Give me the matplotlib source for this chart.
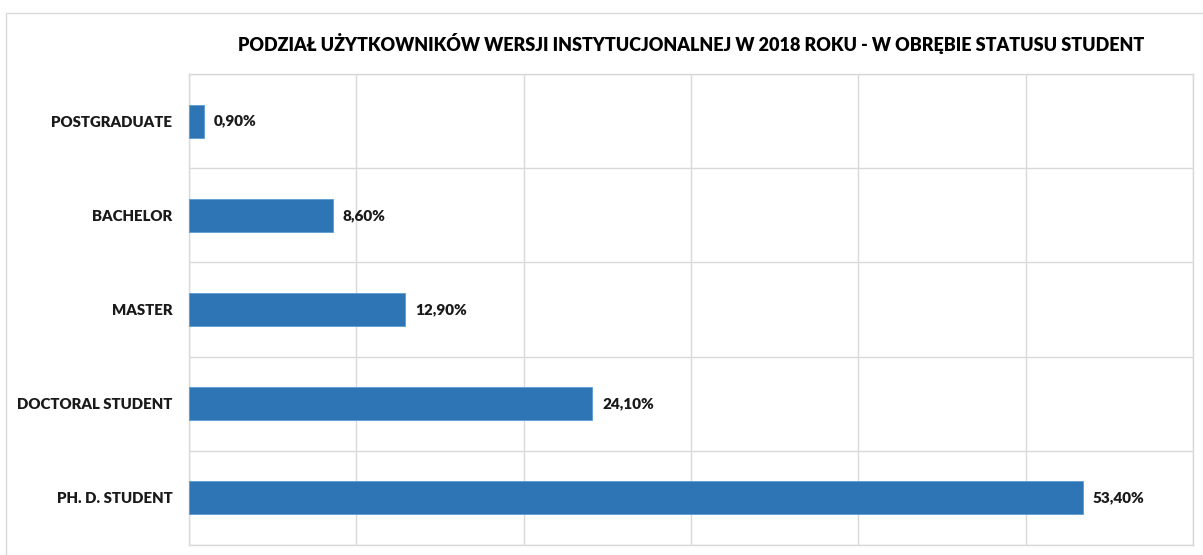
import matplotlib.pyplot as plt
from matplotlib.patches import Rectangle

# ----------------- dane -----------------
categories = ['POSTGRADUATE', 'BACHELOR', 'MASTER', 'DOCTORAL STUDENT', 'PH. D. STUDENT']
values = [0.90, 8.60, 12.90, 24.10, 53.40]
value_labels = ['0,90%', '8,60%', '12,90%', '24,10%', '53,40%']
title = 'PODZIAŁ UŻYTKOWNIKÓW WERSJI INSTYTUCJONALNEJ W 2018 ROKU - W OBRĘBIE STATUSU STUDENT'

plt.rcParams['font.family'] = ['Lato', 'DejaVu Sans']

W, H = 1203, 555
fig = plt.figure(figsize=(W / 100, H / 100), dpi=100)

# ramka wykresu (jak w Excelu)
fig.patches.append(Rectangle((6 / W, -0.1), 1.2, (H - 13) / H + 0.1,
                             transform=fig.transFigure, fill=False,
                             edgecolor='#D9D9D9', linewidth=1.0))

ax = fig.add_axes([189 / W, 10 / H, 1004 / W, 471 / H])

grid_c = '#D9D9D9'
y = list(range(len(categories)))
ax.barh(y, values, height=0.35, color='#2E75B6', edgecolor='#5B9BD5', linewidth=0.6, zorder=3)

ax.set_xlim(0, 60)
ax.set_ylim(len(categories) - 0.5, -0.5)
ax.set_xticks(range(0, 61, 10))
ax.set_xticklabels([])
ax.set_yticks(y)
ax.set_yticklabels(categories, fontsize=10.8, fontweight='heavy', color='#1a1a1a')
ax.set_yticks([i - 0.5 for i in range(len(categories) + 1)], minor=True)
ax.tick_params(axis='both', which='both', length=0)
ax.tick_params(axis='y', pad=12)
ax.grid(True, axis='x', which='major', color=grid_c, linewidth=1.0, zorder=0)
ax.grid(True, axis='y', which='minor', color=grid_c, linewidth=1.0, zorder=0)
for s in ax.spines.values():
    s.set_color(grid_c)
    s.set_linewidth(1.0)

# etykiety wartości
for yi, v, lab in zip(y, values, value_labels):
    ax.annotate(lab, (v, yi), xytext=(10, 0), textcoords='offset pixels',
                va='center', ha='left', fontsize=11, fontweight='heavy', color='#1a1a1a')

fig.text(691 / W, 1 - 44 / H, title, ha='center', va='center',
         fontsize=13, fontweight='heavy', color='black')

fig.savefig('out.png', dpi=100)
